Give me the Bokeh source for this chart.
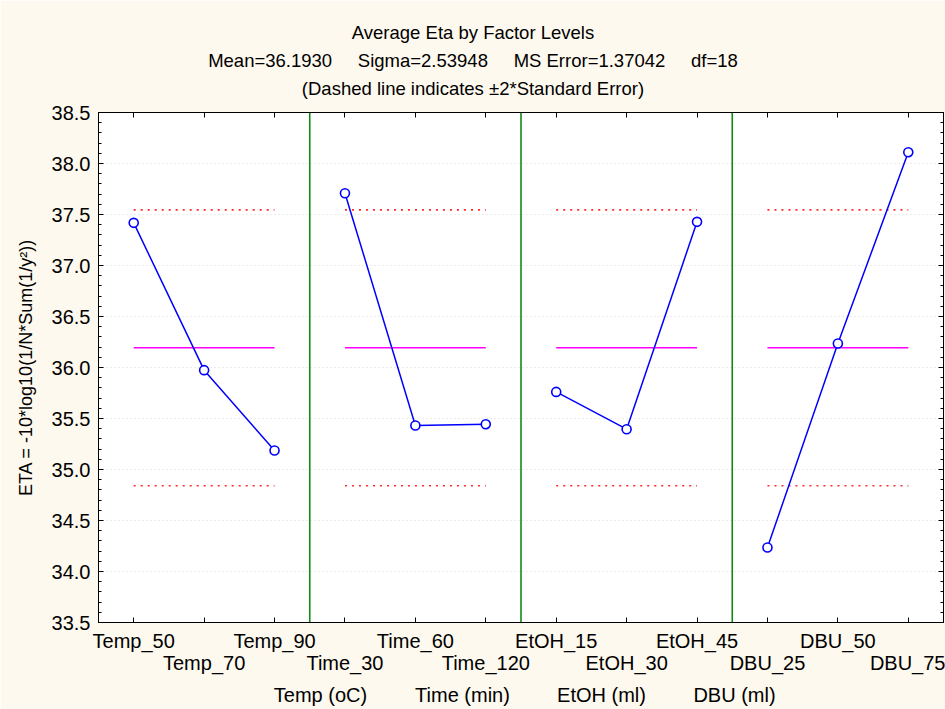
from bokeh.plotting import figure
from bokeh.models import (LinearAxis, FixedTicker, SingleIntervalTicker, Range1d,
                          Grid, PrintfTickFormatter, CustomJSTickFormatter)
from bokeh.embed import file_html
from bokeh.resources import INLINE

# ---------------- data ----------------
categories = ["Temp_50", "Temp_70", "Temp_90",
              "Time_30", "Time_60", "Time_120",
              "EtOH_15", "EtOH_30", "EtOH_45",
              "DBU_25", "DBU_50", "DBU_75"]
factor_names = ["Temp (oC)", "Time (min)", "EtOH (ml)", "DBU (ml)"]
levels_per_factor = 3
eta = [37.418, 35.974, 35.186,
       37.709, 35.431, 35.444,
       35.761, 35.395, 37.428,
       34.235, 36.235, 38.111]
grand_mean = 36.193
upper_2se = 37.545
lower_2se = 34.841
GAP = "\u00a0" * 5
title_lines = ["Average Eta by Factor Levels",
               "Mean=36.1930" + GAP + "Sigma=2.53948" + GAP + "MS Error=1.37042" + GAP + "df=18",
               "(Dashed line indicates \u00b12*Standard Error)"]
y_label = "ETA = -10*log10(1/N*Sum(1/y\u00b2))"
y_min, y_max = 33.5, 38.5

# ---------------- layout ----------------
W, H = 945, 709
FL, FR, FT, FB = 98, 943, 112, 622
FONT = "Liberation Sans"
BG = "#FEF9EE"

n = len(categories)
x_lo, x_hi = 0.5, n + 0.5


def px2x(px):
    return x_lo + (px - FL) * (x_hi - x_lo) / (FR - FL)


p = figure(width=W, height=H, x_range=Range1d(x_lo, x_hi), y_range=Range1d(y_min, y_max),
           output_backend="svg", toolbar_location=None, title=None,
           x_axis_location=None, y_axis_location=None,
           min_border_left=FL, min_border_right=W - FR, min_border_top=FT,
           min_border_bottom=H - FB)
for g in list(p.grid):
    g.visible = False
p.background_fill_color = "white"
p.border_fill_color = BG
p.outline_line_color = "black"
p.outline_line_width = 1

xpos = list(range(1, n + 1))
xticker = FixedTicker(ticks=xpos, minor_ticks=[])
yticker = SingleIntervalTicker(interval=0.5, num_minor_ticks=5)

blank = CustomJSTickFormatter(code="return '';")


def style_axis(ax):
    ax.axis_line_color = "black"
    ax.axis_line_width = 1
    ax.major_tick_line_color = "black"
    ax.minor_tick_line_color = "black"
    ax.major_tick_in = 5
    ax.major_tick_out = 0
    ax.minor_tick_in = 3
    ax.minor_tick_out = 0


def text_axis(ax, size, standoff):
    ax.axis_line_color = None
    ax.major_tick_line_color = None
    ax.minor_tick_line_color = None
    ax.major_tick_in = 0
    ax.major_tick_out = 0
    ax.minor_tick_in = 0
    ax.minor_tick_out = 0
    ax.major_label_text_font = FONT
    ax.major_label_text_font_size = size
    ax.major_label_text_color = "black"
    ax.major_label_standoff = standoff


# y axes
left = LinearAxis(ticker=yticker, formatter=PrintfTickFormatter(format="%.1f"))
style_axis(left)
left.major_label_text_font = FONT
left.major_label_text_font_size = "20px"
left.major_label_text_color = "black"
left.major_label_standoff = 8
left.axis_label = y_label
left.axis_label_text_font = FONT
left.axis_label_text_font_size = "18px"
left.axis_label_text_font_style = "normal"
left.axis_label_text_color = "black"
left.axis_label_standoff = 13
p.add_layout(left, "left")

right = LinearAxis(ticker=yticker, formatter=blank)
style_axis(right)
right.major_label_standoff = 0
p.add_layout(right, "right")

# bottom: tick axis with first row of level labels
row1 = LinearAxis(ticker=xticker, formatter=CustomJSTickFormatter(
    args=dict(names=categories), code="return (index % 2 == 0) ? names[index] : '';"))
style_axis(row1)
row1.major_label_text_font = FONT
row1.major_label_text_font_size = "20px"
row1.major_label_text_color = "black"
row1.major_label_standoff = 7
p.add_layout(row1, "below")

row2 = LinearAxis(ticker=xticker, formatter=CustomJSTickFormatter(
    args=dict(names=categories), code="return (index % 2 == 1) ? names[index] : '';"))
text_axis(row2, "20px", -3)
p.add_layout(row2, "below")

factor_ticker = FixedTicker(ticks=[px2x(v) for v in (320, 462, 601, 734)], minor_ticks=[])
row3 = LinearAxis(ticker=factor_ticker, formatter=CustomJSTickFormatter(
    args=dict(names=factor_names), code="return names[index];"))
text_axis(row3, "20px", 7)
p.add_layout(row3, "below")

# top: tick axis then the three title lines
top = LinearAxis(ticker=xticker, formatter=blank)
style_axis(top)
top.major_label_standoff = 0
p.add_layout(top, "above")

title_ticker = FixedTicker(ticks=[px2x(W / 2)], minor_ticks=[])
for t, so in zip(reversed(title_lines), (14, 4, 4)):
    ax = LinearAxis(ticker=title_ticker, formatter=CustomJSTickFormatter(
        args=dict(txt=t), code="return txt;"))
    text_axis(ax, "18.5px", so)
    p.add_layout(ax, "above")

grid = Grid(dimension=1, ticker=yticker, grid_line_color="#d9d9d9", grid_line_dash="1 3",
            grid_line_width=1)
p.add_layout(grid)

# group separators
ngroups = len(factor_names)
boundaries = [levels_per_factor * (g + 1) + 0.5 for g in range(ngroups - 1)]
p.segment(x0=boundaries, y0=[y_min] * len(boundaries), x1=boundaries, y1=[y_max] * len(boundaries),
          line_color="#138a13", line_width=1.6)

# reference lines per group
gx0 = [levels_per_factor * g + 1 for g in range(ngroups)]
gx1 = [levels_per_factor * g + levels_per_factor for g in range(ngroups)]
p.segment(x0=gx0, x1=gx1, y0=[grand_mean] * ngroups, y1=[grand_mean] * ngroups,
          line_color="#FF00FF", line_width=1.5)
for lvl in (upper_2se, lower_2se):
    p.segment(x0=gx0, x1=gx1, y0=[lvl] * ngroups, y1=[lvl] * ngroups,
              line_color="#FF2A2A", line_width=1.6, line_dash="2 5")

# factor level means
for g in range(ngroups):
    s = slice(levels_per_factor * g, levels_per_factor * (g + 1))
    p.line(xpos[s], eta[s], line_color="#0000FF", line_width=1.5)
p.scatter(xpos, eta, size=9, fill_color="white", line_color="#0000FF", line_width=1.6)

open("out.html", "w").write(file_html(p, INLINE))
